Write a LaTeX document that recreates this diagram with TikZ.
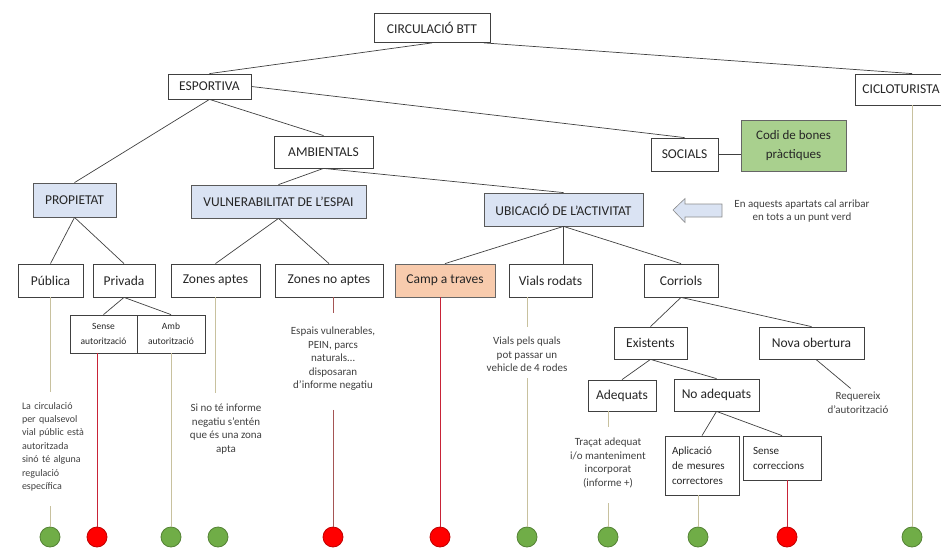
\documentclass[tikz,border=0pt]{standalone}
\usepackage{fontspec}
\setmainfont{Carlito}
\usepackage{tikz}

\definecolor{boxblue}{RGB}{218,227,243}
\definecolor{boxpeach}{RGB}{248,203,173}
\definecolor{boxgreen}{RGB}{169,208,142}
\definecolor{dotgreen}{RGB}{112,173,71}
\definecolor{dotgreenrim}{RGB}{84,130,53}
\definecolor{dotred}{RGB}{255,0,0}
\definecolor{dotredrim}{RGB}{192,0,0}
\definecolor{linetan}{RGB}{200,193,158}
\definecolor{linered}{RGB}{200,35,55}
\definecolor{linebrown}{RGB}{165,85,85}

\tikzset{
  box/.style={draw=black!75, line width=.8pt, fill=white, text=black!85, inner sep=0pt,
    minimum height=33pt, font=\fontsize{13.5}{16}\selectfont},
  bluebox/.style={box, fill=boxblue, draw=black!65},
  smallbox/.style={box, align=center, font=\fontsize{9.5}{15}\selectfont},
  note/.style={align=center, text=black!75, inner sep=1pt, font=\fontsize{11}{13.5}\selectfont},
  edge/.style={draw=black!75, line width=.7pt},
  okline/.style={draw=linetan, line width=.9pt},
  noline/.style={draw=linered, line width=1pt},
  gdot/.style={circle, draw=dotgreenrim, fill=dotgreen, line width=.8pt, minimum size=20pt, inner sep=0pt},
  rdot/.style={circle, draw=dotredrim, fill=dotred, line width=.8pt, minimum size=20pt, inner sep=0pt}
}

\begin{document}
\begin{tikzpicture}[x=1pt,y=-1pt]
 \useasboundingbox (0,0) rectangle (941,548);

 \node[box, minimum width=116pt, minimum height=29pt] (circ) at (432,28) {CIRCULACIÓ BTT};
 \node[box, minimum width=83pt, minimum height=25pt] (esportiva) at (209.5,86.5) {ESPORTIVA};
 \node[box, minimum height=31pt, anchor=west, inner xsep=7pt] (ciclo) at (855,89.5) {CICLOTURISTA};
 \node[box, minimum width=99pt, minimum height=32pt] (ambientals) at (323.5,152) {AMBIENTALS};
 \node[box, minimum width=67pt] (socials) at (684.5,154.5) {SOCIALS};
 \node[box, fill=boxgreen, draw=black!60, minimum width=105pt, minimum height=51pt, align=center,
   font=\fontsize{13}{19}\selectfont] (codi) at (793.5,145.5) {Codi de bones\\pràctiques};

 \node[bluebox, minimum width=83pt, minimum height=34pt] (propietat) at (74.5,200) {PROPIETAT};
 \node[bluebox, minimum width=175pt] (vuln) at (278.5,201.5) {VULNERABILITAT DE L’ESPAI};
 \node[bluebox, minimum width=159pt] (ubicacio) at (563.5,209.5) {UBICACIÓ DE L’ACTIVITAT};

 % fletxa cap a l'esquerra
 \draw[draw=black!45, fill=boxblue, line width=.6pt] (673,210) -- (685,198.5) -- (685,204) -- (722,204)
   -- (722,217) -- (685,217) -- (685,222.5) -- cycle;
 \node[note] (avis) at (802,211) {En aquests apartats cal arribar\\en tots a un punt verd};

 \node[box, minimum width=65pt] (publica) at (50.5,280.5) {Pública};
 \node[box, minimum width=62pt] (privada) at (124,280.5) {Privada};
 \node[box, minimum width=89pt] (zaptes) at (215.5,280.5) {Zones aptes};
 \node[box, minimum width=108pt] (znoaptes) at (329,280.5) {Zones no aptes};
 \node[box, fill=boxpeach, draw=black!60, minimum width=100pt] (camp) at (445,280.5) {Camp a traves};
 \node[box, minimum width=83pt] (vials) at (550.5,280.5) {Vials rodats};
 \node[box, minimum width=74pt] (corriols) at (681,280.5) {Corriols};

 \node[smallbox, minimum width=67pt, minimum height=38pt] (sense) at (103.5,334) {Sense\\autorització};
 \node[smallbox, minimum width=68pt, minimum height=38pt] (amb) at (171,334) {Amb\\autorització};

 \node[box, minimum width=73pt, minimum height=32pt] (existents) at (650.5,343) {Existents};
 \node[box, minimum width=105pt, minimum height=32pt] (nova) at (811.5,343) {Nova obertura};
 \node[box, minimum width=68pt, minimum height=31pt] (adequats) at (622,395.5) {Adequats};
 \node[box, minimum width=85pt, minimum height=32pt] (noadequats) at (716.5,395) {No adequats};
 \node[box, minimum width=74pt, minimum height=59pt, text width=60pt, align=left,
   font=\fontsize{11}{15}\selectfont] (aplicacio) at (702,465.5) {Aplicació\\de mesures\\correctores};
 \node[box, minimum width=78pt, minimum height=44pt, text width=58pt, align=left,
   font=\fontsize{11}{15}\selectfont] (sensecorr) at (782,458) {Sense\\correccions};

 \node[note, anchor=north, align=left, text width=76pt, font=\fontsize{10}{13.4}\selectfont] (circnote) at (60,401)
   {La circulació\\per qualsevol\\vial públic està\\autoritzada\\sinó té alguna\\regulació\\específica};
 \node[note, anchor=north] (sinote) at (226,403) {Si no té informe\\negatiu s'entén\\que és una zona\\apta};
 \node[note, anchor=north] (espais) at (333,326) {Espais vulnerables,\\PEIN, parcs\\naturals…\\disposaran\\d'informe negatiu};
 \node[note, anchor=north] (vialsnote) at (527,336) {Vials pels quals\\pot passar un\\vehicle de 4 rodes};
 \node[note, anchor=north] (tracat) at (608,437) {Traçat adequat\\i/o manteniment\\incorporat\\(informe +)};
 \node[note, anchor=north] (requereix) at (858,391) {Requereix\\d'autorització};

 \node[gdot] (dA) at (50,537) {};
 \node[rdot] (dB) at (97,537) {};
 \node[gdot] (dC) at (171,537) {};
 \node[gdot] (dD) at (218,537) {};
 \node[rdot] (dE) at (333,537) {};
 \node[rdot] (dF) at (440,537) {};
 \node[gdot] (dG) at (527,537) {};
 \node[gdot] (dH) at (608,537) {};
 \node[gdot] (dI) at (698,537) {};
 \node[rdot] (dJ) at (787,537) {};
 \node[gdot] (dK) at (912,537) {};

 \draw[edge] (circ.south) -- (esportiva.north);
 \draw[edge] (circ.-16) -- (ciclo.north -| dK);
 \draw[edge] (esportiva.east) -- (socials.north);
 \draw[edge] (esportiva.south) -- (ambientals.north);
 \draw[edge] (esportiva.south) -- (propietat.north);
 \draw[edge] (socials.east) -- (socials.east -| codi.west);
 \draw[edge] (ambientals.south) -- (vuln.north);
 \draw[edge] (ambientals.south) -- (ubicacio.north);
 \draw[edge] (propietat.south) -- (publica.north);
 \draw[edge] (propietat.south) -- (privada.north);
 \draw[edge] (privada.south) -- (sense.north);
 \draw[edge] (privada.south) -- (amb.north);
 \draw[edge] (vuln.south) -- (zaptes.north);
 \draw[edge] (vuln.south) -- (znoaptes.north);
 \draw[edge] (ubicacio.south) -- (camp.north);
 \draw[edge] (ubicacio.south) -- (ubicacio.south |- vials.north);
 \draw[edge] (ubicacio.south) -- (corriols.north);
 \draw[edge] (corriols.south) -- (existents.north);
 \draw[edge] (corriols.south) -- (nova.north);
 \draw[edge] (existents.south) -- (adequats.north);
 \draw[edge] (existents.south) -- (noadequats.north);
 \draw[edge] (noadequats.south) -- (aplicacio.north);
 \draw[edge] (noadequats.south) -- (sensecorr.north);
 \draw[edge, shorten >=4pt] (nova.-75) -- (requereix.110);

 \draw[okline, shorten >=9pt] (publica.south -| dA) -- (circnote.north -| dA);
 \draw[okline, shorten <=14pt] (circnote.south -| dA) -- (dA);
 \draw[noline] (sense.south -| dB) -- (dB);
 \draw[okline] (amb.south) -- (dC);
 \draw[okline, shorten >=10pt] (zaptes.south) -- (zaptes.south |- sinote.north);
 \draw[linebrown, line width=.9pt, shorten >=13pt] (znoaptes.south -| espais.north) -- (espais.north);
 \draw[linebrown, line width=.9pt, shorten <=18pt] (espais.south) -- (dE);
 \draw[noline] (camp.south -| dF) -- (dF);
 \draw[okline, shorten >=9pt] (vials.south -| dG) -- (vialsnote.north);
 \draw[okline, shorten <=5pt] (vialsnote.south) -- (dG);
 \draw[okline, shorten >=10pt] (adequats.south -| dH) -- (tracat.north);
 \draw[okline, shorten <=14pt] (tracat.south) -- (dH);
 \draw[okline] (aplicacio.south -| dI) -- (dI);
 \draw[noline] (sensecorr.south -| dJ) -- (dJ);
 \draw[okline] (ciclo.south -| dK) -- (dK);

\end{tikzpicture}
\end{document}
